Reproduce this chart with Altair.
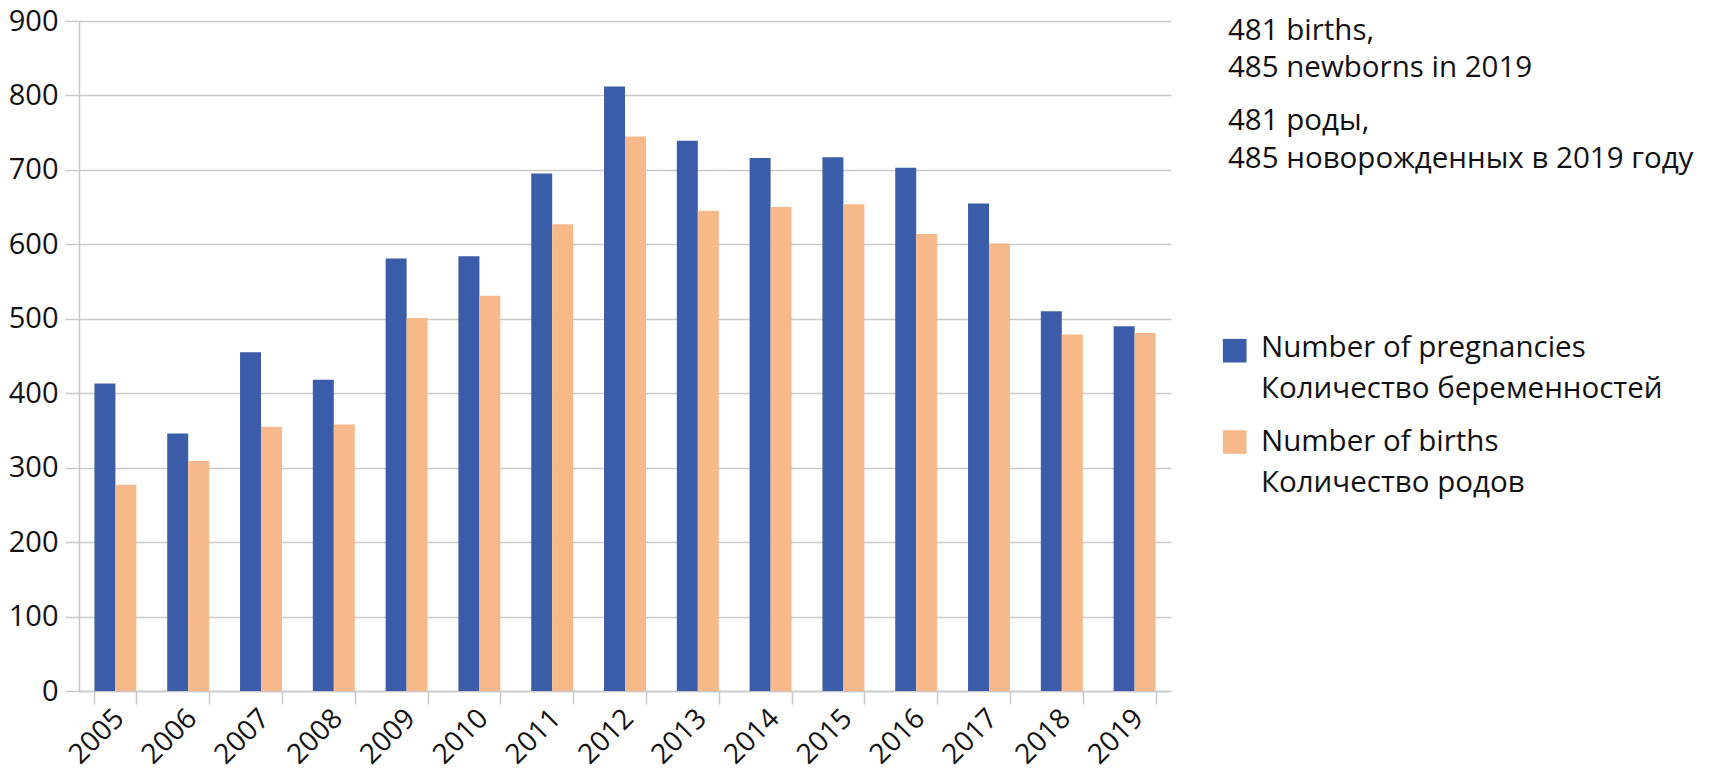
import altair as alt
import pandas as pd

# ---- data ----
years = ["2005", "2006", "2007", "2008", "2009", "2010", "2011", "2012",
         "2013", "2014", "2015", "2016", "2017", "2018", "2019"]
pregnancies = [413, 346, 455, 418, 581, 584, 695, 812, 739, 716, 717, 703, 655, 510, 490]
births = [277, 309, 355, 358, 501, 531, 627, 745, 645, 650, 654, 614, 601, 479, 481]

series = ["Number of pregnancies", "Number of births"]
series_ru = ["Количество беременностей", "Количество родов"]
colors = ["#3a5ca9", "#f7b98a"]

note_en = ["481 births,", "485 newborns in 2019"]
note_ru = ["481 роды,", "485 новорожденных в 2019 году"]
y_ticks = [0, 100, 200, 300, 400, 500, 600, 700, 800, 900]

rows = []
for i, yr in enumerate(years):
    rows.append({"year": yr, "series": series[0], "value": pregnancies[i]})
    rows.append({"year": yr, "series": series[1], "value": births[i]})
df = pd.DataFrame(rows)

FONT = "Open Sans"
FS = 29.5
GREY = "#c9c9c9"
TXT = "#111111"
PAD_L, PAD_T = 71, 13
W, H = 1092, 670
OX, OY = 8 + PAD_L, 8 + PAD_T  # page position of the plot origin

color_scale = alt.Scale(domain=series, range=colors)

bars = alt.Chart(df).mark_bar().encode(
    x=alt.X("year:N", sort=years, title=None,
            scale=alt.Scale(paddingInner=0.424, paddingOuter=0.212),
            axis=alt.Axis(labelAngle=-45, labelAlign="right", labelBaseline="middle",
                          labelFontSize=28, labelFont=FONT, labelColor=TXT,
                          tickBand="extent", tickSize=13, tickColor=GREY, tickWidth=1.5,
                          domainColor=GREY, domainWidth=1.5, labelPadding=10,
                          labelOffset=4, grid=False)),
    xOffset=alt.XOffset("series:N", sort=series,
                        scale=alt.Scale(paddingInner=0, paddingOuter=0)),
    y=alt.Y("value:Q", title=None, scale=alt.Scale(domain=[0, 900], nice=False),
            axis=alt.Axis(values=y_ticks, labelFontSize=29, labelFont=FONT, labelColor=TXT,
                          tickSize=14, tickColor=GREY, tickWidth=1.5,
                          domainColor=GREY, domainWidth=1.5,
                          gridColor=GREY, gridWidth=1.5, labelPadding=7)),
    color=alt.Color("series:N", scale=color_scale, legend=None),
)

one = pd.DataFrame({"series": [series[0]]})
two = pd.DataFrame({"series": [series[1]]})

sq1 = alt.Chart(one).mark_square(size=560, opacity=1, filled=True).encode(
    x=alt.value(1234.7 - OX), y=alt.value(350.7 - OY),
    color=alt.Color("series:N", scale=color_scale, legend=None))
sq2 = alt.Chart(two).mark_square(size=560, opacity=1, filled=True).encode(
    x=alt.value(1234.7 - OX), y=alt.value(442 - OY),
    color=alt.Color("series:N", scale=color_scale, legend=None))

txt_kw = dict(align="left", baseline="alphabetic", font=FONT, fontSize=FS, color=TXT)

t1 = alt.Chart(one).mark_text(text=[series[0], series_ru[0]], lineHeight=41, **txt_kw).encode(
    x=alt.value(1261 - OX), y=alt.value(357.3 - OY))
t2 = alt.Chart(two).mark_text(text=[series[1], series_ru[1]], lineHeight=41, **txt_kw).encode(
    x=alt.value(1261 - OX), y=alt.value(450.7 - OY))

n1 = alt.Chart(one).mark_text(text=note_en, lineHeight=37, **txt_kw).encode(
    x=alt.value(1228 - OX), y=alt.value(40 - OY))
n2 = alt.Chart(one).mark_text(text=note_ru, lineHeight=38, **txt_kw).encode(
    x=alt.value(1228 - OX), y=alt.value(130 - OY))

chart = alt.layer(bars, sq1, sq2, t1, t2, n1, n2).properties(
    width=W, height=H,
    padding={"left": PAD_L, "top": PAD_T, "right": 1695 - PAD_L - W, "bottom": 80},
    autosize=alt.AutoSizeParams(type="none"),
    background="white",
).configure_view(stroke=None)

chart.save("out.html", embed_options={"renderer": "svg", "actions": False})
